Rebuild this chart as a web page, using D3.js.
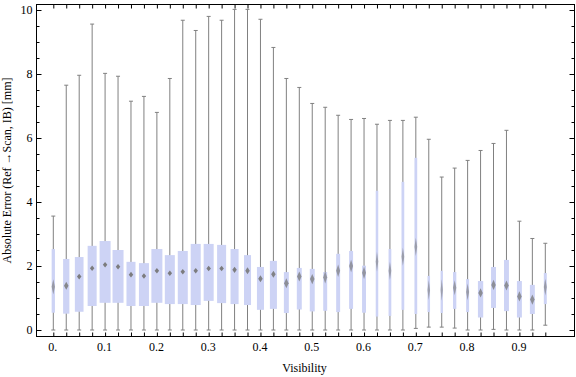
<!DOCTYPE html>
<html>
<head>
    <title>Absolute Error vs Visibility</title>
    <style>
        body, html {
            margin: 0;
            padding: 0;
            background: #fff;
        }
        .axis text {
            font: 12px "Liberation Serif", "DejaVu Serif", serif;
            fill: #000;
        }
        .axis line {
            stroke: #000;
        }
        .axis path {
            display: none;
        }
        .title {
            font: 12px "Liberation Serif", "DejaVu Serif", serif;
            text-anchor: middle;
        }
        .whisker {
            stroke: #808080;
            stroke-width: 1;
        }
        .box {
            fill: #cdd3f5;
        }
        .median {
            fill: #787878;
        }
    </style>
    <script src="https://d3js.org/d3.v7.min.js"></script>
</head>
<body>
    <svg width="576" height="377"></svg>
    <script>
        // box positions (visibility bins)
        const visibility = [0, 0.025, 0.05, 0.075, 0.1, 0.125, 0.15, 0.175, 0.2, 0.225,
            0.25, 0.275, 0.3, 0.325, 0.35, 0.375, 0.4, 0.425, 0.45, 0.475,
            0.5, 0.525, 0.55, 0.575, 0.6, 0.625, 0.65, 0.675, 0.7, 0.725,
            0.75, 0.775, 0.8, 0.825, 0.85, 0.875, 0.9, 0.925, 0.95];
        const whiskerMin = [0, 0, 0, 0, 0, 0, 0, 0, 0, 0,
            0, 0, 0, 0, 0, 0, 0, 0, 0, 0,
            0, 0, 0, 0, 0, 0, 0, 0, 0.05, 0.09,
            0.09, 0.06, 0, 0, 0.02, 0, 0, 0, 0.15];
        const quartile1 = [0.54, 0.51, 0.57, 0.75, 0.85, 0.85, 0.75, 0.75, 0.85, 0.81,
            0.81, 0.78, 0.91, 0.84, 0.81, 0.78, 0.63, 0.66, 0.53, 0.64,
            0.58, 0.60, 0.56, 0.66, 0.54, 0.42, 0.44, 0.63, 0.50, 0.56,
            0.53, 0.66, 0.56, 0.39, 0.69, 0.59, 0.39, 0.50, 0.81];
        const medians = [1.35, 1.38, 1.67, 1.93, 2.04, 1.98, 1.73, 1.69, 1.85, 1.77,
            1.82, 1.85, 1.92, 1.92, 1.88, 1.85, 1.60, 1.74, 1.46, 1.67,
            1.59, 1.65, 1.85, 2.00, 1.79, 2.14, 1.85, 2.29, 2.60, 1.25,
            1.25, 1.32, 1.19, 1.16, 1.41, 1.39, 1.05, 0.95, 1.34];
        const quartile3 = [2.53, 2.22, 2.28, 2.63, 2.78, 2.50, 2.13, 2.09, 2.53, 2.34,
            2.47, 2.69, 2.69, 2.66, 2.53, 2.34, 1.97, 2.16, 1.81, 1.94,
            1.91, 1.81, 2.38, 2.47, 2.01, 4.35, 2.53, 4.63, 5.38, 1.69,
            1.85, 1.81, 1.59, 1.53, 1.97, 2.19, 1.53, 1.41, 1.78];
        const whiskerMax = [3.56, 7.65, 7.96, 9.56, 8.02, 7.93, 7.15, 7.30, 6.80, 7.86,
            9.68, 9.36, 9.80, 9.68, 10.02, 10.02, 9.71, 8.83, 7.86, 7.58,
            7.08, 6.96, 6.71, 6.58, 6.61, 6.43, 6.55, 6.55, 6.65, 5.96,
            4.78, 5.06, 5.30, 5.61, 5.83, 6.24, 3.40, 2.86, 2.71];
        // relative sample size of each bin (sets box width)
        const binWeight = [30, 57, 79, 82, 100, 100, 82, 91, 100, 91,
            91, 91, 91, 82, 73, 64, 64, 64, 45, 45,
            45, 36, 36, 36, 36, 23, 25, 25, 25, 23,
            21, 30, 27, 48, 45, 45, 45, 45, 27];

        const xTickValues = [0, 0.1, 0.2, 0.3, 0.4, 0.5, 0.6, 0.7, 0.8, 0.9];
        const xTickLabels = ["0.", "0.1", "0.2", "0.3", "0.4", "0.5", "0.6", "0.7", "0.8", "0.9"];
        const yMajorTicks = [0, 2, 4, 6, 8, 10];
        const yMinorTicks = [0.5, 1, 1.5, 2.5, 3, 3.5, 4.5, 5, 5.5, 6.5, 7, 7.5, 8.5, 9, 9.5];

        const boxes = visibility.map((v, i) => ({
            v: v,
            lo: whiskerMin[i],
            q1: quartile1[i],
            med: medians[i],
            q3: quartile3[i],
            hi: whiskerMax[i],
            w: binWeight[i]
        }));

        const svg = d3.select('svg');
        const frame = { left: 36, top: 4, right: 575, bottom: 337 };

        const x = d3.scaleLinear().domain([0, 0.95]).range([53.3, 545.3]);
        const y = d3.scaleLinear().domain([0, 10]).range([330, 10]);
        const wScale = d3.scaleLinear().domain([0, 100]).range([0, 11]);

        // whiskers
        const g = svg.append('g');
        g.selectAll('.whisker.v')
            .data(boxes)
            .enter().append('line')
            .attr('class', 'whisker v')
            .attr('x1', d => x(d.v))
            .attr('x2', d => x(d.v))
            .attr('y1', d => y(d.lo))
            .attr('y2', d => y(d.hi));
        g.selectAll('.whisker.top')
            .data(boxes)
            .enter().append('line')
            .attr('class', 'whisker top')
            .attr('x1', d => x(d.v) - 2)
            .attr('x2', d => x(d.v) + 2)
            .attr('y1', d => y(d.hi))
            .attr('y2', d => y(d.hi));
        g.selectAll('.whisker.bottom')
            .data(boxes)
            .enter().append('line')
            .attr('class', 'whisker bottom')
            .attr('x1', d => x(d.v) - 2)
            .attr('x2', d => x(d.v) + 2)
            .attr('y1', d => y(d.lo))
            .attr('y2', d => y(d.lo));

        // boxes
        g.selectAll('.box')
            .data(boxes)
            .enter().append('rect')
            .attr('class', 'box')
            .attr('x', d => x(d.v) - wScale(d.w) / 2)
            .attr('y', d => y(d.q3))
            .attr('width', d => wScale(d.w))
            .attr('height', d => y(d.q1) - y(d.q3));

        // median marks (diamonds, stretched and fainter on narrow boxes)
        const defs = svg.append('defs');
        defs.append('filter').attr('id', 'soft')
            .append('feGaussianBlur').attr('stdDeviation', 0.5);
        g.selectAll('.median')
            .data(boxes)
            .enter().append('path')
            .attr('class', 'median')
            .attr('filter', 'url(#soft)')
            .attr('opacity', d => 0.4 + 0.55 * Math.min(1, wScale(d.w) / 8))
            .attr('d', d => {
                const bw = wScale(d.w);
                const hw = Math.min(4.5, bw) / 2;
                const hh = Math.min(24, Math.max(5.5, 50 / bw)) / 2;
                const cx = x(d.v), cy = y(d.med);
                return `M${cx},${cy - hh}L${cx + hw},${cy}L${cx},${cy + hh}L${cx - hw},${cy}Z`;
            });

        // frame
        svg.append('rect')
            .attr('x', frame.left + 0.5)
            .attr('y', frame.top + 0.5)
            .attr('width', frame.right - frame.left - 1)
            .attr('height', frame.bottom - frame.top - 1)
            .attr('fill', 'none')
            .attr('stroke', '#000');

        // left axis
        svg.append('g')
            .attr('class', 'axis')
            .attr('transform', `translate(${frame.left + 0.5},0)`)
            .call(d3.axisLeft(y).tickValues(yMajorTicks).tickSize(-5).tickPadding(4).tickFormat(d3.format('d')));
        svg.append('g')
            .attr('class', 'axis')
            .attr('transform', `translate(${frame.left + 0.5},0)`)
            .call(d3.axisLeft(y).tickValues(yMinorTicks).tickSize(-3).tickFormat(''));
        // right axis
        svg.append('g')
            .attr('class', 'axis')
            .attr('transform', `translate(${frame.right - 0.5},0)`)
            .call(d3.axisRight(y).tickValues(yMajorTicks).tickSize(-5).tickFormat(''));
        svg.append('g')
            .attr('class', 'axis')
            .attr('transform', `translate(${frame.right - 0.5},0)`)
            .call(d3.axisRight(y).tickValues(yMinorTicks).tickSize(-3).tickFormat(''));
        // bottom axis
        svg.append('g')
            .attr('class', 'axis')
            .attr('transform', `translate(0,${frame.bottom - 0.5})`)
            .call(d3.axisBottom(x).tickValues(visibility).tickSize(-4).tickFormat(''));
        svg.append('g')
            .attr('class', 'axis')
            .attr('transform', `translate(-1,${frame.bottom - 0.5})`)
            .call(d3.axisBottom(x).tickValues(xTickValues).tickSize(0).tickPadding(6)
                .tickFormat((d, i) => xTickLabels[i]));
        // top axis
        svg.append('g')
            .attr('class', 'axis')
            .attr('transform', `translate(0,${frame.top + 0.5})`)
            .call(d3.axisTop(x).tickValues(visibility).tickSize(-4).tickFormat(''));

        // axis titles
        svg.append('text')
            .attr('class', 'title')
            .attr('x', (frame.left + frame.right) / 2 - 1)
            .attr('y', 372)
            .text('Visibility');
        svg.append('text')
            .attr('class', 'title')
            .attr('transform', `translate(11,${(frame.top + frame.bottom) / 2}) rotate(-90)`)
            .text('Absolute Error (Ref \u2192Scan, IB) [mm]');
    </script>
</body>
</html>
